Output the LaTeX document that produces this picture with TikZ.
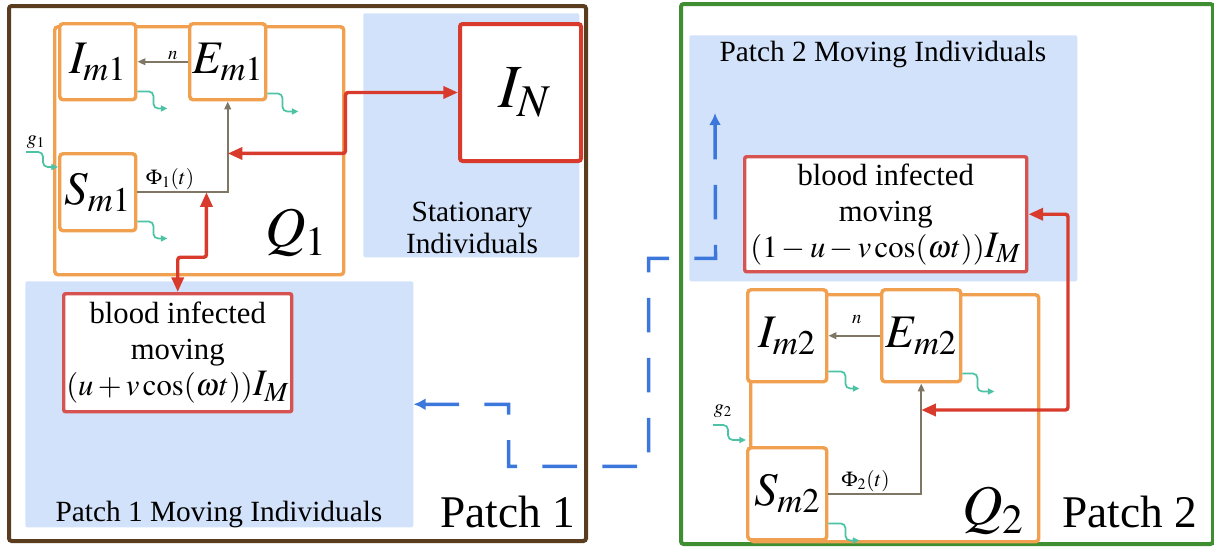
\documentclass[tikz,border=0pt]{standalone}
\usepackage{mathptmx}
\usepackage{fontspec}
\setmainfont{Liberation Serif}
\usetikzlibrary{arrows.meta,calc}
\definecolor{brownp}{HTML}{5A3C1E}
\definecolor{greenp}{HTML}{3F8F32}
\definecolor{orangeq}{HTML}{F0A04E}
\definecolor{redc}{HTML}{D83A2C}
\definecolor{redb}{HTML}{D65352}
\definecolor{bluebg}{HTML}{D2E2FA}
\definecolor{tealc}{HTML}{4DC2A5}
\definecolor{grayc}{HTML}{7F7664}
\definecolor{bluec}{HTML}{3C78DC}
\begin{document}
\begin{tikzpicture}[x=0.75pt,y=-0.75pt,
  sz/.style 2 args={minimum width=#1*0.75pt, minimum height=#2*0.75pt, inner sep=0pt, anchor=north west},
  patchbox/.style={draw=#1, line width=3pt, rounded corners=2pt},
  bgrect/.style={fill=bluebg, draw=none, rounded corners=1.5pt},
  outerq/.style={draw=orangeq, line width=2.6pt, rounded corners=2.5pt},
  comp/.style={draw=orangeq, line width=2.6pt, fill=white, rounded corners=2.5pt, font=\fontsize{35}{35}\selectfont},
  bloodbox/.style={draw=redb, line width=2.6pt, fill=white, rounded corners=1.5pt, align=center, font=\fontsize{23}{27}\selectfont},
  redarr/.style={draw=redc, line width=2.6pt, rounded corners=2pt, {Triangle[length=11pt,width=9pt]}-{Triangle[length=11pt,width=9pt]}},
  grayarr/.style={draw=grayc, line width=1.5pt, -{Triangle[length=6pt,width=5pt]}},
  tealarr/.style={draw=tealc, line width=1.3pt, rounded corners=3.5pt, -{Triangle[length=5pt,width=4.5pt]}},
  bluedash/.style={draw=bluec, line width=2.6pt, dash pattern=on 26pt off 19pt, {Latex[length=9pt,width=9pt]}-{Latex[length=9pt,width=9pt]}},
  small/.style={font=\fontsize{15}{15}\selectfont, inner sep=1pt},
  bigtext/.style={font=\fontsize{34}{34}\selectfont},
  midtext/.style={font=\fontsize{22}{24}\selectfont, align=center}
]
\useasboundingbox (0,0) rectangle (1214,550);

% patches
\node[patchbox=brownp, sz={577}{535}] (P1) at (7,4) {};
\node[patchbox=greenp, sz={532}{540}] (P2) at (679,2) {};

% blue backgrounds
\node[bgrect, sz={216}{244}] (stat) at (363,13) {};
\node[bgrect, sz={388}{246}] (M1) at (25,281) {};
\node[bgrect, sz={388}{246}] (M2) at (689,35) {};

\node[midtext] (statlab) at (472,228) {Stationary\\Individuals};
\node[midtext] (m1lab) at (219,514) {Patch 1 Moving Individuals};
\node[midtext] (m2lab) at (883,54) {Patch 2 Moving Individuals};

% Q1
\node[outerq, sz={289}{248}] (Q1) at (53,25) {};
\node[comp, sz={76}{76}] (Im1) at (58,22) {$I_{m1}$};
\node[comp, sz={76}{76}] (Em1) at (188,22) {$E_{m1}$};
\node[comp, sz={76}{77}] (Sm1) at (58,152) {$S_{m1}$};
\node[font=\fontsize{42}{42}\selectfont] (q1lab) at (296,233) {$Q_1$};

% Q2
\node[outerq, sz={288}{247}] (Q2) at (749,293) {};
\node[comp, sz={79}{92}] (Im2) at (746,288) {$I_{m2}$};
\node[comp, sz={79}{92}] (Em2) at (880,288) {$E_{m2}$};
\node[comp, sz={79}{92}] (Sm2) at (746,446) {$S_{m2}$};
\node[font=\fontsize{42}{42}\selectfont] (q2lab) at (993,511) {$Q_2$};

% I_N
\node[draw=redc, line width=3pt, fill=white, rounded corners=2pt, sz={121}{137}, font=\fontsize{46}{46}\selectfont] (IN) at (458,22) {\hspace*{6pt}$I_N$};

% blood boxes
\node[bloodbox, sz={228}{118}] (B1) at (62,292) {blood infected\\moving\\$(u+v\cos(\omega t))${\fontsize{28}{28}\selectfont$I_M$}};
\node[bloodbox, sz={282}{115}] (B2) at (743,155) {blood infected\\moving\\$(1-u-v\cos(\omega t))${\fontsize{28}{28}\selectfont$I_M$}};

% patch labels
\node[bigtext] (p1lab) at (508,512) {Patch 1};
\node[bigtext] (p2lab) at (1130,512) {Patch 2};

% gray transitions
\draw[grayarr] (Em1.west) -- (Im1.east) node[pos=0.3, above, small, font=\fontsize{14}{14}\selectfont] (n1) {$n$};
\draw[grayarr] (Sm1.east) -| (Em1.south) node[pos=0.18, above, small, font=\fontsize{16}{16}\selectfont] (phi1) {$\Phi_1(t)$};
\draw[grayarr] (Em2.west) -- (Im2.east) node[pos=0.45, above=7pt, small, font=\fontsize{14}{14}\selectfont] (n2) {$n$};
\draw[grayarr] (Sm2.east) -| (Em2.south) node[pos=0.2, above, small, font=\fontsize{16}{16}\selectfont] (phi2) {$\Phi_2(t)$};

% teal outflows
\draw[tealarr] ($(Im1.south east)+(0,-10)$) -- ++(16,0) -- ++(0,17) -- ++(14,0);
\draw[tealarr] ($(Em1.south east)+(0,-8)$) -- ++(15,0) -- ++(0,18) -- ++(16,0);
\draw[tealarr] ($(Sm1.south east)+(0,-11)$) -- ++(16,0) -- ++(0,17) -- ++(14,0);
\draw[tealarr] ($(Im2.south east)+(0,-12)$) -- ++(17,0) -- ++(0,17) -- ++(14,0);
\draw[tealarr] ($(Em2.south east)+(0,-10)$) -- ++(15,0) -- ++(0,18) -- ++(17,0);
\draw[tealarr] ($(Sm2.south east)+(0,-18)$) -- ++(17,0) -- ++(0,17) -- ++(14,0);
% recruitment
\coordinate (g1s) at (26,152);
\draw[tealarr] (g1s) -- ++(17,0) -- ++(0,15) -- ($(Sm1.north west)+(0,15)$);
\node[small] (g1lab) at (36,142) {$g_1$};
\coordinate (g2s) at (713,425);
\draw[tealarr] (g2s) -- ++(15,0) -- ++(0,15) -- ($(Sm2.north west)+(0,-6)$);
\node[small] (g2lab) at (723,411) {$g_2$};

% red connectors
\coordinate (j1) at ($(Em1.south)+(0,52)$);
\coordinate (j2) at ($(Sm1.east)+(69,0)$);
\coordinate (k1) at ($(j2)+(0,65)$);
\draw[redarr] (j1) -- (j1 -| Q1.east) |- (IN.west);
\draw[redarr] (j2) -- (k1) -| (B1.north);
\coordinate (k2) at (1068,410);
\coordinate (j3) at (Em2.south |- k2);
\draw[redarr] (B2.east) -| (k2) -- (j3);

% blue dashed migration
\coordinate (m2tip) at (715,113);
\draw[bluedash] (M1.east) -- ++(95,0) -- ++(0,62) -- ++(140,0) -- ++(0,-208) -- ++(67,0) -- (m2tip);
\end{tikzpicture}
\end{document}
